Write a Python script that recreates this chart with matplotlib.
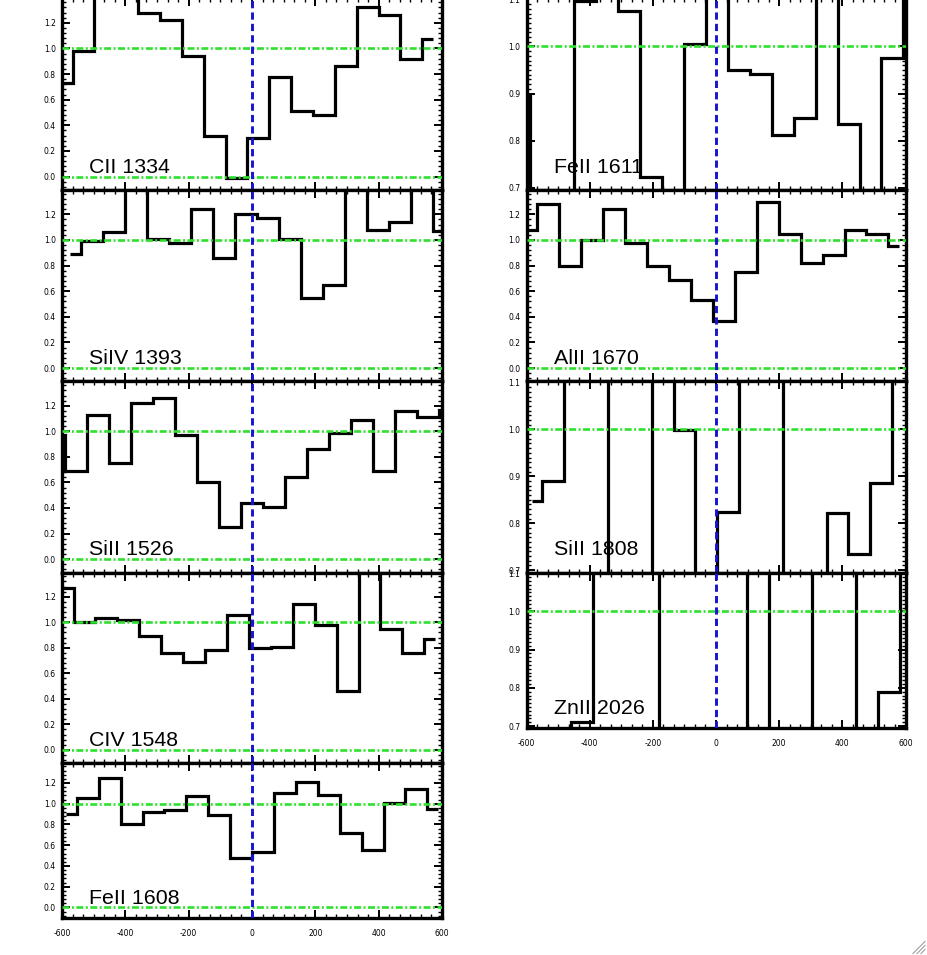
import numpy as np
import matplotlib
matplotlib.use('Agg')
import matplotlib.pyplot as plt
from matplotlib.ticker import MultipleLocator, FormatStrFormatter
from matplotlib.lines import Line2D

plt.rcParams['lines.scale_dashes'] = False
plt.rcParams['axes.unicode_minus'] = False

# off-scale pixels (clipped by the axes) are given rough values
# left column: velocity of each pixel (km/s) and normalised flux
v_cii = [-601, -532, -463, -394, -325, -256, -187, -118, -49, 20, 89, 158, 227, 296, 365, 434, 503, 572]
f_cii = [0.73, 0.98, 1.55, 1.55, 1.28, 1.22, 0.94, 0.32, -0.01, 0.30, 0.78, 0.51, 0.48, 0.86, 1.32, 1.26, 0.92, 1.07]

v_siiv = [-575, -505, -436, -366, -297, -227, -158, -88, -19, 51, 120, 190, 259, 329, 398, 468, 537, 607]
f_siiv = [0.89, 0.99, 1.06, 1.55, 1.01, 0.98, 1.24, 0.86, 1.20, 1.17, 1.01, 0.55, 0.65, 1.55, 1.08, 1.14, 1.55, 1.07]

v_sii1526 = [-625, -556, -486, -417, -347, -278, -208, -139, -69, 0, 70, 139, 209, 278, 348, 417, 487, 556, 626]
f_sii1526 = [0.97, 0.69, 1.13, 0.75, 1.22, 1.26, 0.97, 0.60, 0.25, 0.44, 0.41, 0.64, 0.86, 0.99, 1.09, 0.69, 1.16, 1.11, 1.17]

v_civ = [-598, -529, -460, -390, -321, -252, -183, -114, -44, 25, 94, 163, 232, 302, 371, 440, 509, 578]
f_civ = [1.27, 1.00, 1.03, 1.02, 0.89, 0.76, 0.69, 0.78, 1.06, 0.80, 0.81, 1.14, 0.98, 0.46, 1.55, 0.95, 0.76, 0.87]

v_feii1608 = [-588, -519, -450, -380, -311, -242, -173, -104, -34, 35, 104, 173, 242, 312, 381, 450, 519, 588]
f_feii1608 = [0.90, 1.06, 1.25, 0.80, 0.92, 0.94, 1.07, 0.89, 0.48, 0.53, 1.10, 1.21, 1.08, 0.72, 0.55, 1.01, 1.14, 0.95]

# right column
v_feii1611 = [-623, -553, -484, -414, -345, -275, -206, -136, -67, 3, 72, 142, 211, 281, 350, 420, 489, 559, 628]
f_feii1611 = [0.897, 0.60, 0.60, 1.097, 1.20, 1.075, 0.722, 0.60, 1.006, 1.20, 0.950, 0.941, 0.812, 0.848, 1.20, 0.835, 0.60, 0.975, 1.20]

v_alii = [-600, -531, -461, -392, -322, -253, -183, -114, -44, 25, 94, 164, 233, 303, 372, 442, 511, 581]
f_alii = [1.08, 1.28, 0.80, 1.00, 1.24, 0.98, 0.80, 0.69, 0.53, 0.37, 0.75, 1.30, 1.05, 0.82, 0.88, 1.08, 1.05, 0.95]

v_sii1808 = [-584, -515, -446, -377, -307, -238, -169, -100, -30, 39, 108, 177, 247, 316, 385, 454, 524, 593]
f_sii1808 = [0.847, 0.891, 1.20, 1.20, 0.60, 0.60, 1.20, 0.999, 0.60, 0.824, 1.20, 1.20, 0.60, 0.60, 0.822, 0.735, 0.885, 1.20]

v_znii = [-633, -563, -494, -424, -355, -285, -216, -146, -77, -7, 62, 132, 201, 271, 340, 410, 479, 549, 618]
f_znii = [0.60, 0.60, 0.60, 0.71, 1.20, 1.20, 1.20, 0.60, 0.60, 0.60, 0.60, 1.20, 0.60, 0.60, 1.20, 1.20, 0.60, 0.79, 1.20]

left = [('CII 1334', v_cii, f_cii), ('SiIV 1393', v_siiv, f_siiv),
        ('SiII 1526', v_sii1526, f_sii1526), ('CIV 1548', v_civ, f_civ),
        ('FeII 1608', v_feii1608, f_feii1608)]
right = [('FeII 1611', v_feii1611, f_feii1611, 'zoom'), ('AlII 1670', v_alii, f_alii, 'full'),
         ('SiII 1808', v_sii1808, f_sii1808, 'zoom'), ('ZnII 2026', v_znii, f_znii, 'zoom')]

# panel edges in pixels (top, bottom)
rows = [(-1.5, 190), (190, 381.5), (381.5, 572.5), (572.5, 763.3), (763.3, 918.3)]
W, H = 927, 955

fig = plt.figure(figsize=(W / 100, H / 100), dpi=100)


def panel(x0, x1, row, name, v, f, kind, bottom):
    t, b = row
    ax = fig.add_axes([x0 / W, 1 - b / H, (x1 - x0) / W, (b - t) / H])
    v = np.asarray(v, float)
    mid = (v[:-1] + v[1:]) / 2
    edges = np.concatenate([[v[0]], mid, [v[-1]]])
    ax.stairs(f, edges, baseline=None, color='k', lw=2.3, zorder=2)
    ax.axhline(1.0, color='#2fe02f', lw=1.9, dashes=(5, 1.8, 1.4, 1.8), zorder=3)
    if kind == 'full':
        ax.axhline(0.0, color='#2fe02f', lw=1.9, dashes=(5, 1.8, 1.4, 1.8), zorder=3)
    ax.axvline(0, color='#1414d2', lw=2.1, dashes=(5.2, 3.0), zorder=4)
    ax.set_xlim(-600, 600)
    if kind == 'full':
        ax.set_ylim(-0.105, 1.39)
        ax.yaxis.set_major_locator(MultipleLocator(0.2))
        ax.yaxis.set_minor_locator(MultipleLocator(0.04))
    else:
        ax.set_ylim(0.695, 1.102)
        ax.yaxis.set_major_locator(MultipleLocator(0.1))
        ax.yaxis.set_minor_locator(MultipleLocator(0.01))
    ax.yaxis.set_major_formatter(FormatStrFormatter('%.1f'))
    ax.xaxis.set_major_locator(MultipleLocator(200))
    ax.xaxis.set_minor_locator(MultipleLocator(200 / 6))
    ax.tick_params(which='both', direction='in', top=True, right=True,
                   labelsize=5.5, colors='k')
    ax.tick_params(which='major', length=6, width=1.4)
    ax.tick_params(which='minor', length=3, width=1.0)
    ax.tick_params(axis='y', pad=4.5)
    ax.tick_params(axis='x', pad=8, labelbottom=bottom)
    for s in ax.spines.values():
        s.set_linewidth(2.4)
    ax.text(0.072, 0.09, name, transform=ax.transAxes, fontsize=15.4,
            family='Liberation Sans', va='baseline', ha='left', zorder=5)
    return ax


for i, (name, v, f) in enumerate(left):
    panel(62, 442, rows[i], name, v, f, 'full', i == len(left) - 1)

rows_r = rows[:3] + [(572.5, 728)]
for i, (name, v, f, kind) in enumerate(right):
    panel(526.5, 905.5, rows_r[i], name, v, f, kind, i == len(right) - 1)

# window resize grip in the corner
for d in (4, 8, 12):
    fig.add_artist(Line2D([(W - 2 - d) / W, (W - 2) / W], [1.5 / H, (1.5 + d) / H],
                          color='#a0a0a0', lw=0.8))

fig.savefig('out.png', dpi=100)
